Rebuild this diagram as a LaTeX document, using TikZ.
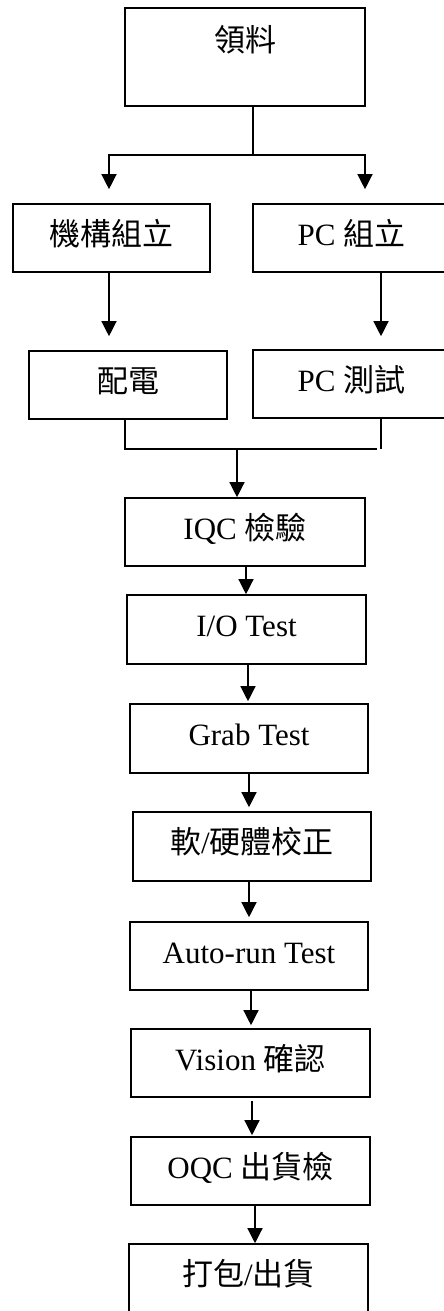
\documentclass[tikz,border=0pt]{standalone}
\usepackage{fontspec}
\setmainfont{Liberation Serif}
\newfontfamily\cjk{Noto Sans CJK TC}
\usetikzlibrary{arrows.meta}
\begin{document}
\begin{tikzpicture}[x=1pt,y=-1pt,
  box/.style={draw, line width=1.6pt, minimum height=68pt, inner sep=0pt,
    text height=22pt, text depth=8pt, font=\fontsize{31}{36}\selectfont},
  arr/.style={line width=1.3pt, -{Triangle[width=15pt,length=15pt]}},
  ln/.style={line width=1.3pt}]
\useasboundingbox (0,0) rectangle (444,1311);
\clip (0,0) rectangle (444,1311);
\fill[white] (0,0) rectangle (444,1311);

\node[box, minimum width=240pt, minimum height=98pt, text height=44pt, text depth=54pt] (lingliao) at (245,57) {\cjk 領料};
\node[box, minimum width=197pt] (jigou) at (111.5,238) {\cjk 機構組立};
\node[box, minimum width=197pt] (pcasm) at (351.5,238) {PC {\cjk 組立}};
\node[box, minimum width=198pt] (peidian) at (128,385) {\cjk 配電};
\node[box, minimum width=197pt] (pctest) at (351.5,384) {PC {\cjk 測試}};
\node[box, minimum width=240pt] (iqc) at (245,532) {IQC {\cjk 檢驗}};
\node[box, minimum width=239pt, minimum height=69pt] (io) at (246.5,629.5) {I/O Test};
\node[box, minimum width=238pt, minimum height=69pt] (grab) at (249,738.5) {Grab Test};
\node[box, minimum width=238pt, minimum height=69pt] (calib) at (252,846.5) {{\cjk 軟}/{\cjk 硬體校正}};
\node[box, minimum width=238pt] (autorun) at (249,956) {Auto-run Test};
\node[box, minimum width=239pt] (vision) at (250.5,1063) {Vision {\cjk 確認}};
\node[box, minimum width=239pt] (oqc) at (250.5,1171) {OQC {\cjk 出貨檢}};
\node[box, minimum width=239pt, minimum height=69pt] (pack) at (248.5,1278.5) {{\cjk 打包}/{\cjk 出貨}};

\coordinate (split) at (253,155);
\coordinate (cL) at (109,0);
\coordinate (cR) at (365,0);
\coordinate (cPC) at (381,0);
\coordinate (cJ) at (125,0);
\coordinate (cE) at (377,0);
\coordinate (merge) at (237,449);
\coordinate (k1) at (246,0);
\coordinate (k2) at (248,0);
\coordinate (k3) at (249,0);
\coordinate (k4) at (251,0);
\coordinate (k5) at (252,0);
\coordinate (k6) at (255,0);

\draw[ln] (lingliao.south -| split) -- (split);
\draw[arr, shorten >=14pt] (split) -| (jigou.north -| cL);
\draw[arr, shorten >=14pt] (split) -| (pcasm.north -| cR);
\draw[arr, shorten >=14pt] (jigou.south -| cL) -- (peidian.north -| cL);
\draw[arr, shorten >=13pt] (pcasm.south -| cPC) -- (pctest.north -| cPC);
\draw[ln] (peidian.south -| cJ) -- (cJ |- merge) -- (cE |- merge);
\draw[ln] (pctest.south -| cPC) -- (cPC |- merge);
\draw[arr] (merge) -- (iqc.north -| merge);
\draw[arr] (iqc.south -| k1) -- (io.north -| k1);
\draw[arr, shorten >=2pt] (io.south -| k2) -- (grab.north -| k2);
\draw[arr, shorten >=4pt] (grab.south -| k3) -- (calib.north -| k3);
\draw[arr, shorten >=4pt] (calib.south -| k3) -- (autorun.north -| k3);
\draw[arr, shorten >=3pt] (autorun.south -| k4) -- (vision.north -| k4);
\draw[arr, shorten <=3pt, shorten >=1pt] (vision.south -| k5) -- (oqc.north -| k5);
\draw[arr] (oqc.south -| k6) -- (pack.north -| k6);
\end{tikzpicture}
\end{document}
